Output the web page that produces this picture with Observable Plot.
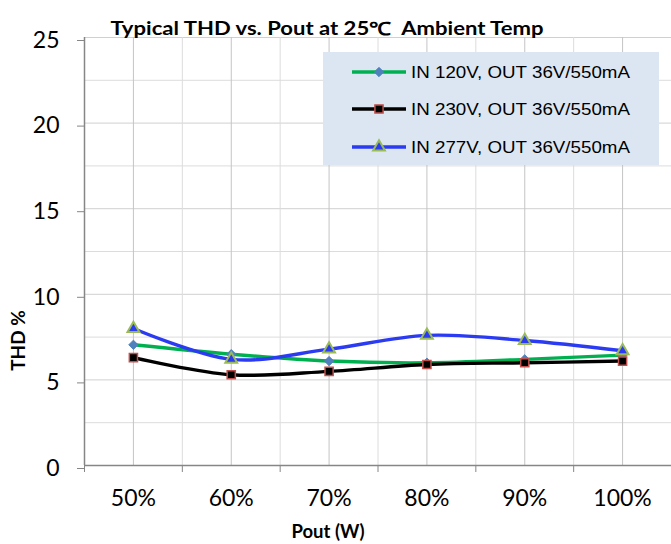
<!DOCTYPE html>
<html>
<head>
<meta charset="utf-8">
<script src="https://cdn.jsdelivr.net/npm/d3@7"></script>
<script src="https://cdn.jsdelivr.net/npm/@observablehq/plot@0.6"></script>
<style>
  body { margin: 0; background: #fff; }
  #wrap { position: relative; width: 671px; height: 544px; overflow: hidden; }
  #chart { position: absolute; left: 0; top: 0; }
  #legend { position: absolute; left: 323px; top: 52px; }
</style>
</head>
<body>
<div id="wrap">
  <div id="chart"></div>
  <svg id="legend" width="336" height="113"></svg>
</div>
<script>
// ---- data ----
const categories = ["50%", "60%", "70%", "80%", "90%", "100%"];
const in120 = [7.05, 6.5, 6.1, 6.0, 6.2, 6.45];
const in230 = [6.3, 5.3, 5.5, 5.9, 6.0, 6.1];
const in277 = [8.0, 6.2, 6.8, 7.6, 7.3, 6.7];
const seriesNames = ["IN 120V, OUT 36V/550mA", "IN 230V, OUT 36V/550mA", "IN 277V, OUT 36V/550mA"];
const yTicks = [0, 5, 10, 15, 20, 25];
const yMinor = [2.5, 7.5, 12.5, 17.5, 22.5];
const titleText = "Typical THD vs. Pout at 25\u2103  Ambient Temp";
const xLabel = "Pout (W)";
const yLabel = "THD %";

// ---- styles ----
const seriesStyle = [
  { line: "#00b050", symbol: "diamond2", fill: "#4f81bd", stroke: "#4f81bd", sw: 1, r: 4.2 },
  { line: "#000000", symbol: "square", fill: "#000000", stroke: "#c0504d", sw: 1.5, r: 4.6 },
  { line: "#2b3bf2", symbol: "triangle", fill: "#2b3bf2", stroke: "#9bbb59", sw: 2, r: 4.4 }
];
const seriesValues = [in120, in230, in277];

const idx = categories.map((c, i) => i + 1);
const bounds = d3.range(categories.length + 1).map(i => i + 0.5);

const seriesMarks = [];
seriesValues.forEach((vals, s) => {
  const st = seriesStyle[s];
  const rows = vals.map((v, i) => ({ x: i + 1, y: v }));
  seriesMarks.push(Plot.line(rows, { x: "x", y: "y", stroke: st.line, strokeWidth: 3.4, curve: "cardinal" }));
  seriesMarks.push(Plot.dot(rows, { x: "x", y: "y", symbol: st.symbol, r: st.r, fill: st.fill, stroke: st.stroke, strokeWidth: st.sw }));
});

const chart = Plot.plot({
  width: 671,
  height: 544,
  marginTop: 37,
  marginBottom: 79,
  marginLeft: 84,
  marginRight: 0,
  style: { fontFamily: "Lato, sans-serif", background: "transparent", color: "#000" },
  x: { domain: [0.5, categories.length + 0.5], axis: null },
  y: { domain: [0, 25], axis: null },
  marks: [
    Plot.ruleY(yMinor, { stroke: "#dcdcdc", strokeWidth: 1 }),
    Plot.ruleY(yTicks.slice(1), { stroke: "#d0d0d0", strokeWidth: 1 }),
    Plot.ruleX(bounds.slice(1), { stroke: "#dcdcdc", strokeWidth: 1 }),
    Plot.ruleX(idx, { stroke: "#c4c4c4", strokeWidth: 1 }),
    Plot.ruleY([0], { stroke: "#868686", strokeWidth: 1.5 }),
    Plot.ruleX([0.5], { stroke: "#868686", strokeWidth: 1.5 }),
    Plot.axisY({ ticks: yTicks, tickSize: 7, tickPadding: 18, fontSize: 23, stroke: "#868686", fill: "#000", label: null, dy: 3 }),
    Plot.axisX({ ticks: bounds, tickSize: 7, tickFormat: () => "", stroke: "#868686", label: null }),
    Plot.axisX({ ticks: idx, tickSize: 0, tickPadding: 24, tickFormat: i => categories[i - 1], fontSize: 23, fill: "#000", label: null }),
    Plot.text([xLabel], { frameAnchor: "bottom", dx: -50, dy: 72, text: d => d, fontWeight: "bold", fontSize: 18.5, fill: "#000" }),
    Plot.text([yLabel], { frameAnchor: "left", textAnchor: "middle", dx: -66, dy: 89, rotate: -90, text: d => d, fontWeight: "bold", fontSize: 19, fill: "#000" }),
    Plot.text([titleText], { frameAnchor: "top", dx: -51, dy: -15, text: d => d, fontWeight: "bold", fontSize: 18, fill: "#000" }),
    ...seriesMarks
  ]
});
document.getElementById("chart").appendChild(chart);

// keep the title's double space and match its width
d3.select(chart).selectAll("text")
  .filter(function () { return this.textContent === titleText; })
  .attr("textLength", 433).attr("lengthAdjust", "spacingAndGlyphs")
  .style("white-space", "pre");

// ---- legend ----
const lg = d3.select("#legend");
lg.append("rect").attr("x", 0).attr("y", 0).attr("width", 336).attr("height", 113).attr("fill", "#dce6f2");
const rowY = [20, 57, 95];
seriesNames.forEach((name, s) => {
  const st = seriesStyle[s];
  const y = rowY[s];
  lg.append("line").attr("x1", 29).attr("x2", 83).attr("y1", y).attr("y2", y)
    .attr("stroke", st.line).attr("stroke-width", 3.4);
  const symType = { diamond2: d3.symbolDiamond2, square: d3.symbolSquare, triangle: d3.symbolTriangle }[st.symbol];
  lg.append("path").attr("d", d3.symbol(symType, st.r * st.r * Math.PI)())
    .attr("transform", `translate(56,${y})`)
    .attr("fill", st.fill).attr("stroke", st.stroke).attr("stroke-width", st.sw);
  lg.append("text").attr("x", 88).attr("y", y + 6)
    .attr("textLength", 219).attr("lengthAdjust", "spacingAndGlyphs")
    .attr("font-family", "'Liberation Sans', Arial, sans-serif").attr("font-size", 16.5)
    .attr("fill", "#000")
    .text(name);
});
</script>
</body>
</html>
